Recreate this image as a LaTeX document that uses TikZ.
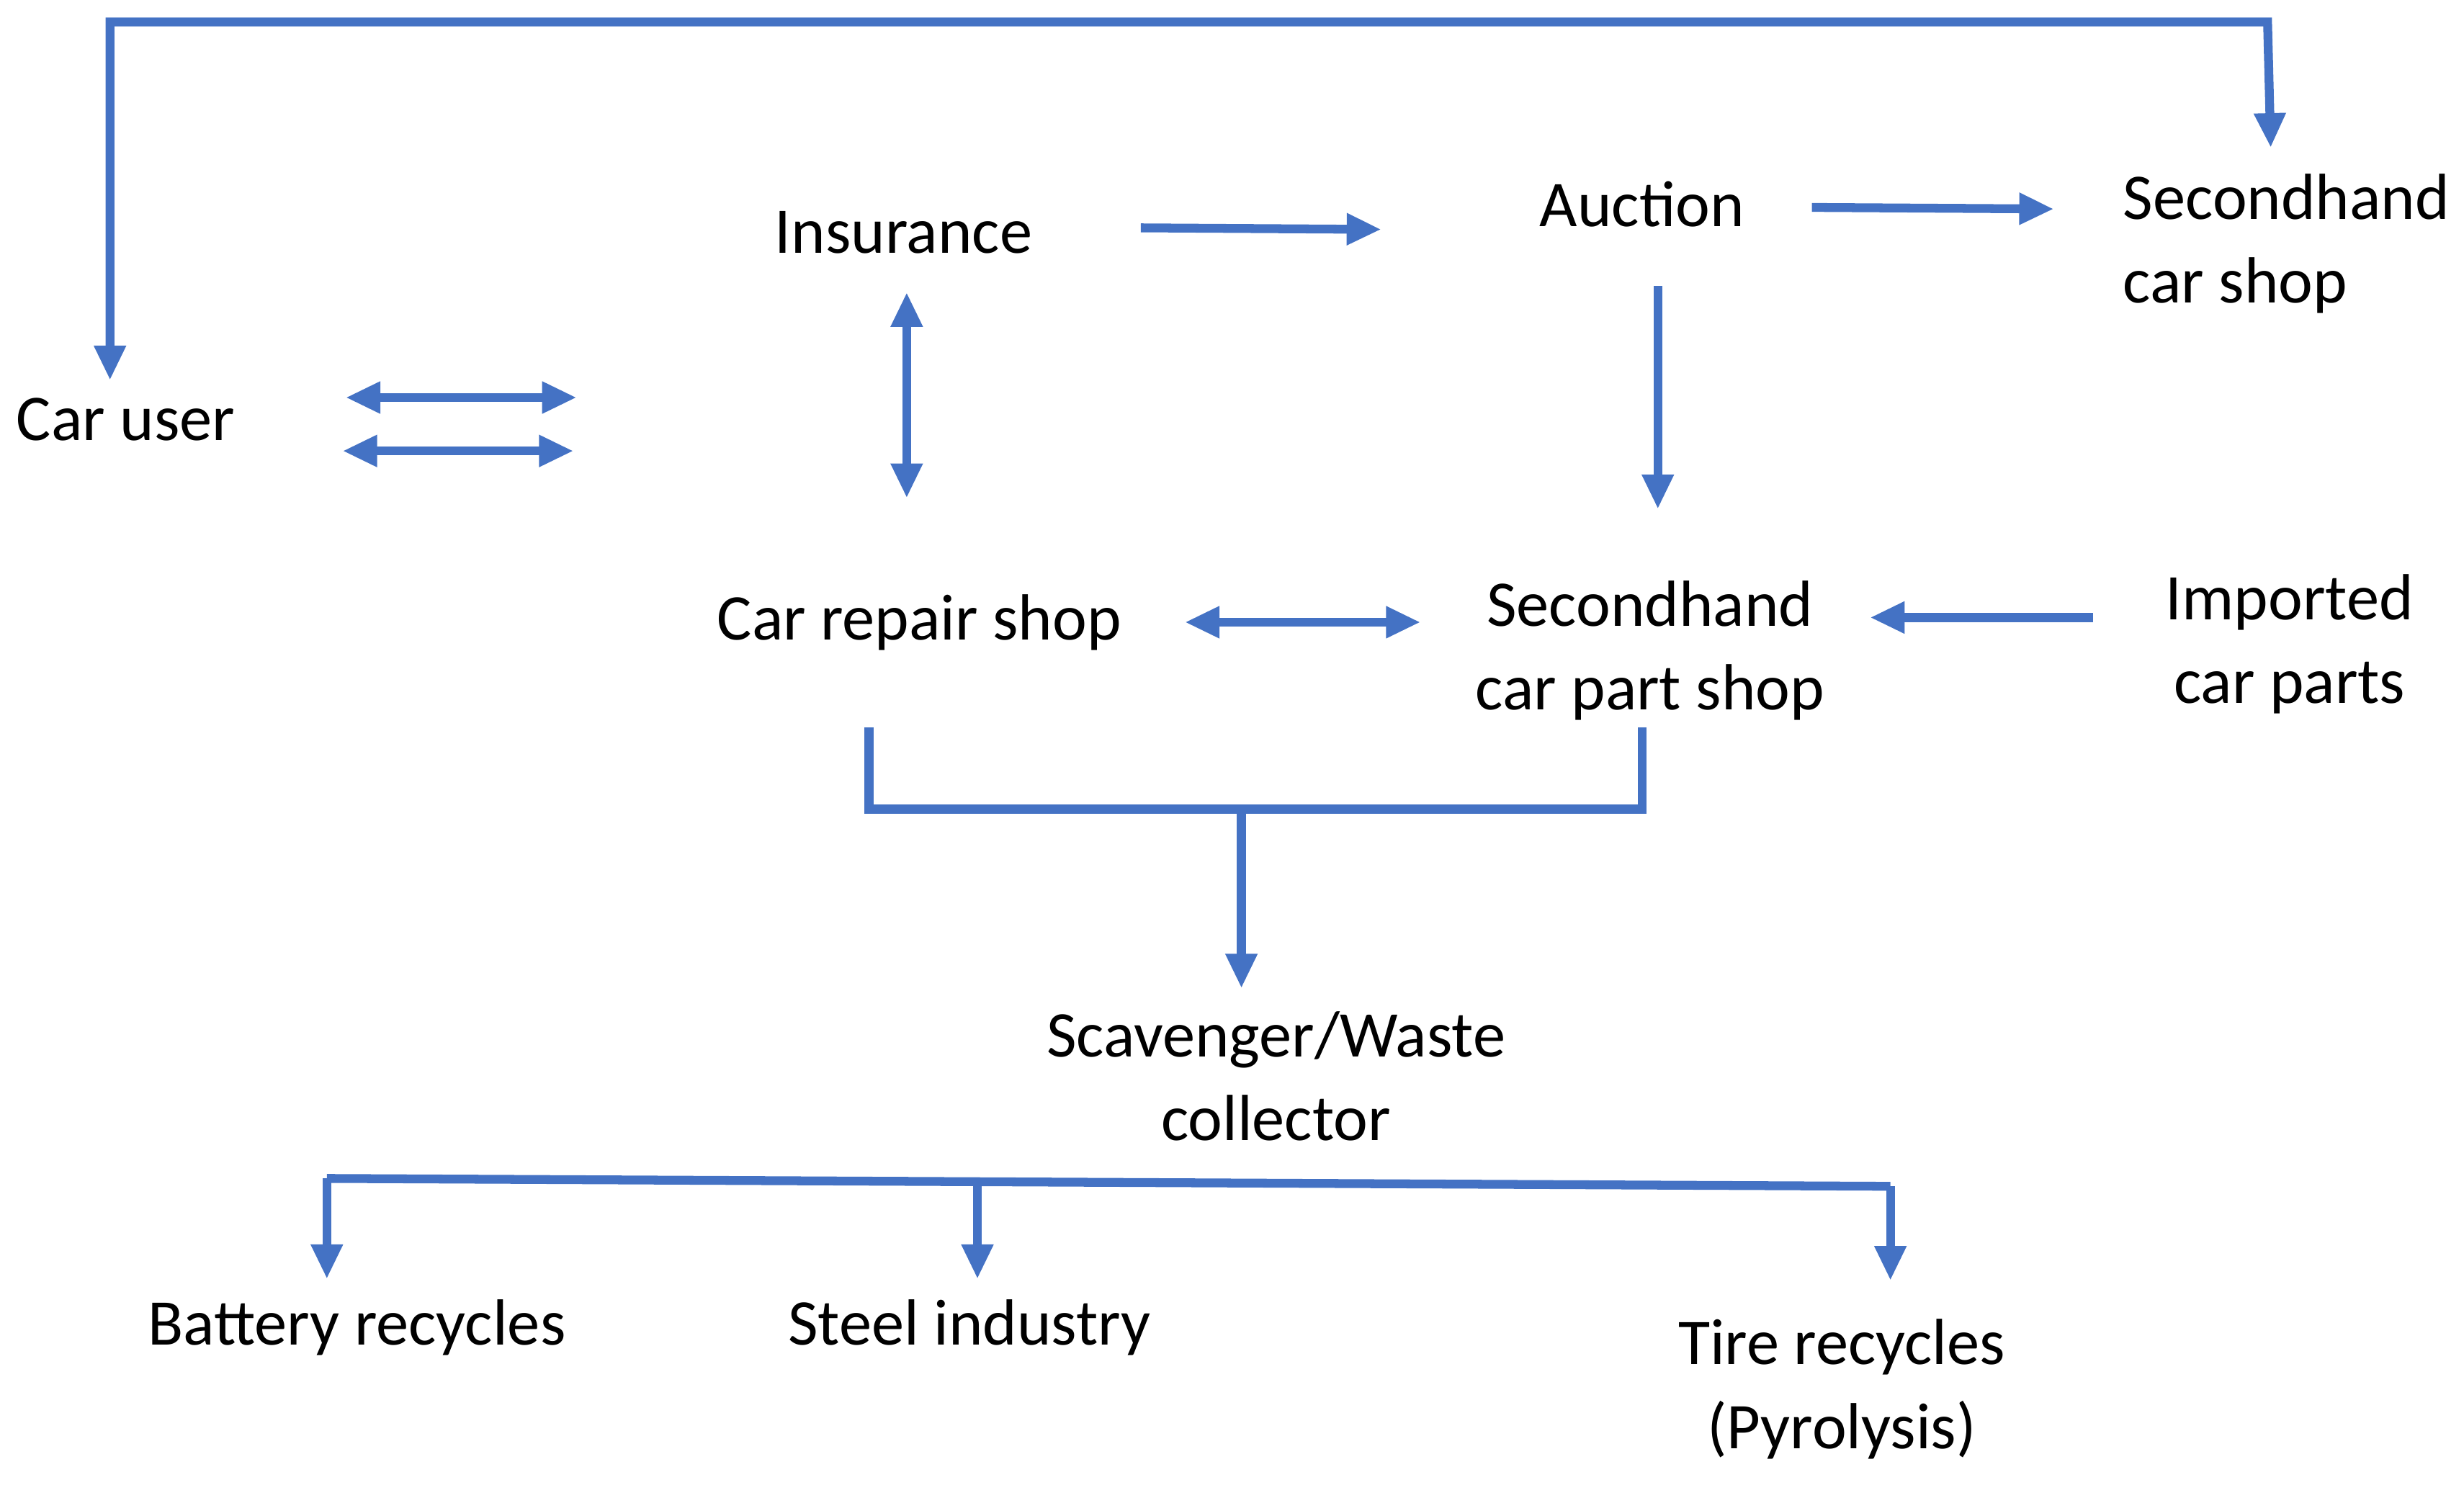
\documentclass[tikz,border=0pt]{standalone}
\usepackage{fontspec}
\setmainfont{Carlito}
\usetikzlibrary{calc, arrows.meta, positioning}
\tikzset{
  lbl/.style={align=center, font=\fontsize{11.8}{15.2}\selectfont, inner sep=0pt},
  flow/.style={draw={rgb,255:red,68;green,114;blue,196}, line width=1.6pt,
    -{Triangle[length=0.22cm,width=0.19cm]}},
  both/.style={flow, {Triangle[length=0.22cm,width=0.19cm]}-{Triangle[length=0.22cm,width=0.19cm]}},
  line/.style={draw={rgb,255:red,68;green,114;blue,196}, line width=1.6pt}
}
\begin{document}
\begin{tikzpicture}[x=0.01cm, y=-0.01cm]
  \useasboundingbox (0,0) rectangle (1568,945);
  % nodes
  \node[lbl] (user) at (80,267) {Car user};
  \node[lbl] (ins) at (575,148) {Insurance};
  \node[lbl] (auc) at (1045,130) {Auction};
  \node[lbl, align=left] (shop) at (1455,155) {Secondhand\\car shop};
  \node[lbl] (repair) at (585,396) {Car repair shop};
  \node[lbl] (parts) at (1050,414) {Secondhand\\car part shop};
  \node[lbl] (imp) at (1457,410) {Imported\\car parts};
  \node[lbl] (scav) at (812,685) {Scavenger/Waste\\collector};
  \node[lbl] (bat) at (227,845) {Battery recycles};
  \node[lbl] (steel) at (617,845) {Steel industry};
  \node[lbl] (tire) at (1172,884) {Tire recycles\\(Pyrolysis)};
  % connector ends
  \coordinate (u1) at (70,242);
  \coordinate (s1) at (1445,94);
  \coordinate (ua) at (220,253); \coordinate (ia) at (367,253);
  \coordinate (ub) at (218,287); \coordinate (ib) at (365,287);
  \coordinate (i1) at (726,145); \coordinate (a1) at (879,146);
  \coordinate (a2) at (1153,132); \coordinate (s2) at (1307,133);
  \coordinate (i2) at (577,186); \coordinate (r1) at (577,317);
  \coordinate (a3) at (1055,182); \coordinate (p1) at (1055,324);
  \coordinate (r2) at (754,396); \coordinate (p2) at (904,396);
  \coordinate (m1) at (1332,393); \coordinate (p3) at (1190,393);
  \coordinate (r3) at (553,463); \coordinate (p4) at (1045,463);
  \coordinate (j1) at (790,515); \coordinate (c1) at (790,629);
  \coordinate (bl) at (208,750); \coordinate (bm) at (622,752); \coordinate (br) at (1203,755);
  % connectors
  \draw[both] (u1) -- (70,14) -- (1443,14) -- (s1);
  \draw[both] (ua) -- (ia);
  \draw[both] (ub) -- (ib);
  \draw[flow] (i1) -- (a1);
  \draw[flow] (a2) -- (s2);
  \draw[both] (i2) -- (r1);
  \draw[flow] (a3) -- (p1);
  \draw[both] (r2) -- (p2);
  \draw[flow] (m1) -- (p3);
  \draw[line] (r3) -- (553,515) -- (1045,515) -- (p4);
  \draw[flow] (j1) -- (c1);
  \draw[line] (bl) -- (br);
  \draw[flow] (bl) -- (208,814);
  \draw[flow] (bm) -- (622,814);
  \draw[flow] (br) -- (1203,815);
\end{tikzpicture}
\end{document}
